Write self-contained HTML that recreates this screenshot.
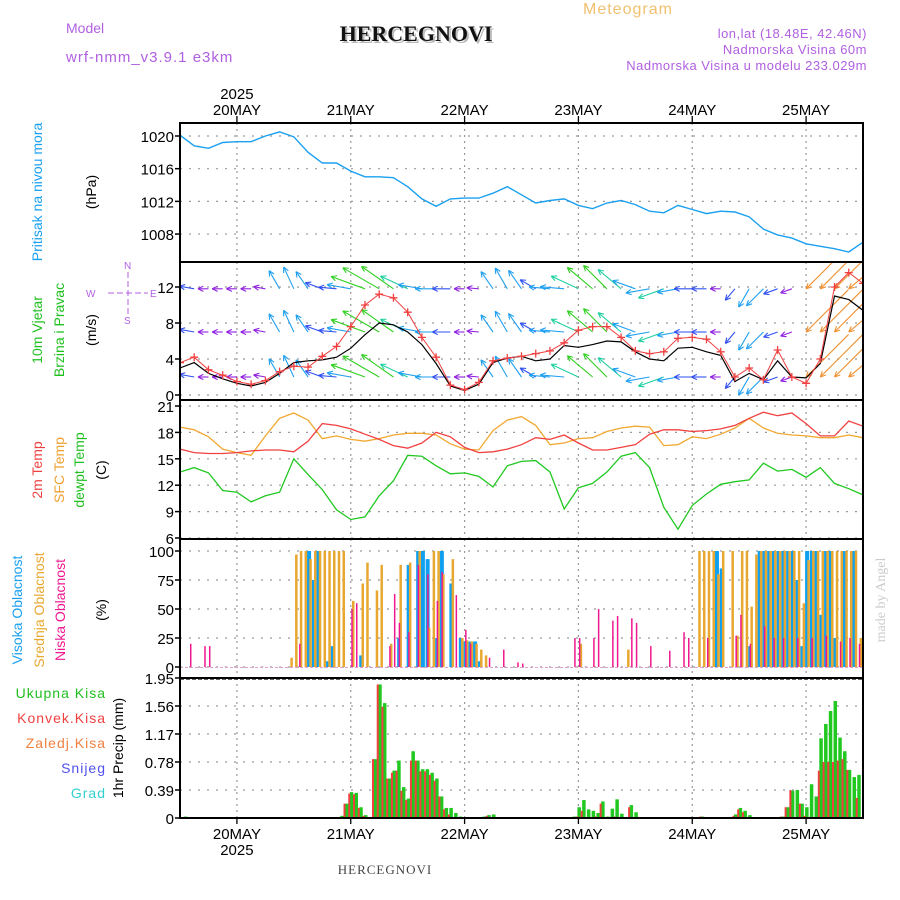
<!DOCTYPE html>
<html><head><meta charset="utf-8"><style>
html,body{margin:0;padding:0;background:#fff;}
svg{display:block;font-family:"Liberation Sans",sans-serif;}
</style></head><body>
<svg id="chart" width="900" height="900" viewBox="0 0 900 900">
<defs>
<clipPath id="cp1"><rect x="180" y="123" width="684" height="139"/></clipPath>
<clipPath id="cp2"><rect x="180" y="262" width="684" height="138"/></clipPath>
<clipPath id="cp3"><rect x="180" y="400" width="684" height="139"/></clipPath>
<clipPath id="cp4"><rect x="180" y="539" width="684" height="139"/></clipPath>
<clipPath id="cp5"><rect x="180" y="678" width="684" height="140"/></clipPath>
</defs>
<g>
<text x="583" y="14" font-size="16" fill="#f0c070" letter-spacing="1">Meteogram</text>
<text x="66" y="33" font-size="14" fill="#b060e0">Model</text>
<text x="66" y="62" font-size="15" fill="#b060e0" letter-spacing="1">wrf-nmm_v3.9.1 e3km</text>
<text x="418" y="43" font-size="22" font-weight="bold" font-family="Liberation Serif,serif" fill="#bbb" text-anchor="middle">HERCEGNOVI</text>
<text x="416" y="41" font-size="22" font-weight="bold" font-family="Liberation Serif,serif" fill="#111" text-anchor="middle">HERCEGNOVI</text>
<text x="867" y="38" font-size="13" fill="#b060e0" text-anchor="end" letter-spacing="0.5">lon,lat (18.48E, 42.46N)</text>
<text x="867" y="54" font-size="13" fill="#b060e0" text-anchor="end" letter-spacing="0.5">Nadmorska Visina 60m</text>
<text x="867" y="70" font-size="13" fill="#b060e0" text-anchor="end" letter-spacing="0.5">Nadmorska Visina u modelu 233.029m</text>
</g>
<g>
<text transform="translate(42,192) rotate(-90)" font-size="14" fill="#1aa0f0" text-anchor="middle">Pritisak na nivou mora</text>
<text transform="translate(96,192) rotate(-90)" font-size="14" fill="#000" text-anchor="middle">(hPa)</text>
<text transform="translate(42,330) rotate(-90)" font-size="14" fill="#20c020" text-anchor="middle">10m Vjetar</text>
<text transform="translate(64,330) rotate(-90)" font-size="14" fill="#20c020" text-anchor="middle">Brzina i Pravac</text>
<text transform="translate(96,330) rotate(-90)" font-size="14" fill="#000" text-anchor="middle">(m/s)</text>
<g stroke="#b060e0" fill="#b060e0" font-size="10">
<line x1="128" y1="272" x2="128" y2="314" stroke-dasharray="6,3"/>
<line x1="108" y1="293" x2="148" y2="293" stroke-dasharray="6,3"/>
<text x="124" y="269" stroke="none">N</text><text x="124" y="324" stroke="none">S</text>
<text x="86" y="297" stroke="none">W</text><text x="150" y="297" stroke="none">E</text>
</g>
<text transform="translate(42,470) rotate(-90)" font-size="14" fill="#f04040" text-anchor="middle">2m Temp</text>
<text transform="translate(64,470) rotate(-90)" font-size="14" fill="#f0a030" text-anchor="middle">SFC Temp</text>
<text transform="translate(84,470) rotate(-90)" font-size="14" fill="#20c020" text-anchor="middle">dewpt Temp</text>
<text transform="translate(106,470) rotate(-90)" font-size="14" fill="#000" text-anchor="middle">(C)</text>
<text transform="translate(22,610) rotate(-90)" font-size="14" fill="#1aa0f0" text-anchor="middle">Visoka Oblacnost</text>
<text transform="translate(44,610) rotate(-90)" font-size="14" fill="#e8a830" text-anchor="middle">Srednja Oblacnost</text>
<text transform="translate(65,610) rotate(-90)" font-size="14" fill="#f01890" text-anchor="middle">Niska Oblacnost</text>
<text transform="translate(106,610) rotate(-90)" font-size="14" fill="#000" text-anchor="middle">(%)</text>
<g font-size="14" text-anchor="end" letter-spacing="1">
<text x="106" y="698" fill="#20c020">Ukupna Kisa</text>
<text x="106" y="723" fill="#f04040">Konvek.Kisa</text>
<text x="106" y="748" fill="#f08040">Zaledj.Kisa</text>
<text x="106" y="773" fill="#5050f0">Snijeg</text>
<text x="106" y="798" fill="#30d0d0">Grad</text>
</g>
<text transform="translate(123,748) rotate(-90)" font-size="14" fill="#000" text-anchor="middle">1hr Precip (mm)</text>
<text transform="translate(885,600) rotate(-90)" font-size="14" font-family="Liberation Serif,serif" fill="#ccc" text-anchor="middle">made by Angel</text>
<text x="385" y="874" font-size="13" font-family="Liberation Serif,serif" fill="#444" text-anchor="middle" letter-spacing="1">HERCEGNOVI</text>
</g>
<g id="plots"></g>
</svg>
<script>
// ---- data (hours from 19 MAY 12Z) ----
const dayLabels = ["20MAY","21MAY","22MAY","23MAY","24MAY","25MAY"];
const dayHours = [12,36,60,84,108,132];
const pressure = [1020.1,1018.8,1018.5,1019.2,1019.3,1019.3,1020.0,1020.5,1019.9,1018.0,1016.7,1016.7,1015.7,1015.0,1015.0,1014.9,1013.8,1012.3,1011.4,1012.3,1012.4,1012.4,1013.0,1013.8,1012.8,1011.8,1012.1,1012.3,1011.5,1011.1,1011.8,1012.1,1011.6,1010.8,1010.6,1011.5,1011.0,1010.5,1010.8,1010.7,1010.1,1008.6,1007.9,1007.5,1006.8,1006.5,1006.2,1005.8,1007.0];
const pressureTicks = [1020,1016,1012,1008];
const windGust = [3.6,4.2,2.8,2.2,1.5,1.2,1.6,2.6,3.2,3.1,4.3,5.4,7.6,10.0,11.2,10.8,9.2,6.4,4.2,1.1,0.6,1.4,3.8,4.1,4.3,4.6,4.9,5.8,7.2,7.6,7.6,6.4,4.9,4.6,4.8,6.3,6.4,6.2,4.8,2.0,3.0,1.7,5.0,2.0,1.3,4.0,12.0,13.6,12.4];
const windSpeed = [3.0,3.6,2.4,1.8,1.3,1.0,1.4,2.4,3.6,3.8,3.9,4.2,5.2,6.7,8.0,7.8,7.0,5.6,3.5,1.0,0.5,1.2,3.6,4.1,4.3,3.8,4.0,5.5,5.3,5.6,6.0,5.9,4.8,4.0,3.8,5.2,5.3,4.8,4.4,1.5,2.4,1.7,3.8,2.0,1.9,3.5,11.0,10.6,9.4];
const windDir = [150,170,180,180,180,180,170,120,115,125,160,175,170,160,150,145,155,170,180,180,180,175,125,120,125,150,175,175,155,140,135,140,160,190,200,190,180,180,180,230,240,225,200,200,225,225,225,220,220];
const windLen = [14,10,7,7,7,7,8,14,16,14,12,12,16,24,28,26,20,16,14,12,7,8,14,16,15,12,14,16,20,22,22,20,16,16,18,14,12,10,7,10,14,16,10,8,40,45,45,40,40];
const windRows = [11.8,7.0,2.0];
const windTicks = [12,8,4,0];
const temp2m = [16.1,15.7,15.6,15.6,15.7,15.9,16.0,16.0,15.8,17.0,19.0,18.8,18.4,17.8,17.2,16.5,16.2,16.8,18.0,17.5,16.3,15.7,15.8,16.1,16.6,17.4,17.2,17.7,16.8,16.0,16.0,16.3,16.6,17.8,18.3,18.3,18.1,18.2,18.4,18.8,19.6,20.3,19.9,20.2,19.0,17.6,17.6,19.3,18.7];
const tempSfc = [18.6,18.3,17.5,16.1,15.7,15.4,17.6,19.6,20.2,19.4,17.3,17.6,17.2,17.0,17.3,17.7,17.9,17.9,17.7,16.7,16.1,16.0,18.2,19.4,19.8,18.8,16.6,16.8,17.3,17.4,18.1,18.5,18.7,18.6,16.5,16.6,17.5,17.3,17.8,18.5,19.6,18.5,17.9,17.7,17.6,17.4,17.4,17.7,17.4];
const tempDew = [13.5,14.0,13.4,11.4,11.2,10.1,10.8,11.2,15.0,13.2,11.5,9.2,8.1,8.4,10.8,12.5,15.4,15.3,14.2,13.3,13.4,13.0,11.8,14.2,14.7,14.8,13.5,9.3,11.7,12.2,13.5,15.3,15.7,14.0,9.5,7.0,9.7,11.0,12.1,12.4,12.6,14.5,13.6,13.8,12.9,14.0,12.2,11.6,10.9];
const tempTicks = [21,18,15,12,9,6];
const cloudHighHours = [27,28,29,31,32,38,46,48,50,51,52,54,55,57,59,60,61,62,63,113,114,120,122,123,124,125,126,127,128,129,130,131,132,133,134,135,136,137,138,140,142];
const cloudHighVals  = [100,75,100,5,18,10,25,88,100,100,93,25,100,72,25,22,22,22,5,100,85,18,100,100,100,100,100,100,100,100,75,18,100,100,100,45,100,100,25,100,100];
const cloudMidHours = [24,25,26,27,28,29,30,31,32,33,34,35,37,39,40,42,43,45,47,49,51,53,54,55,56,58,60,61,62,63,64,65,85,95,110,111,112,113,114,115,117,118,119,120,121,122,123,124,125,126,127,128,129,130,131,132,133,134,135,136,137,138,139,140,141,142,143,144];
const cloudMidVals  = [8,97,100,100,93,100,100,100,100,100,100,100,57,72,90,66,88,20,88,90,100,34,100,100,80,93,25,23,22,20,15,10,20,15,100,100,100,100,80,100,100,27,100,100,52,97,100,100,100,100,100,100,100,100,100,55,92,100,100,100,100,100,100,100,100,100,100,25];
const cloudLowHours = [2,5,6,25,36,37,44,45,46,48,50,52,54,55,58,60,61,65,68,71,72,83,84,87,88,91,92,95,96,99,103,106,107,111,117,118,120,123,125,127,130,133,136,139,141,143];
const cloudLowVals  = [20,18,18,20,50,55,18,63,38,30,88,80,57,82,62,32,20,8,15,4,3,25,25,25,50,40,44,42,38,18,14,30,25,25,27,45,20,35,25,25,25,25,27,22,25,20];
const cloudTicks = [100,75,50,25,0];
const precipHours = [1,34,35,36,37,38,39,41,42,43,44,45,46,47,48,49,50,51,52,53,54,55,56,57,58,59,64,65,66,83,84,85,86,87,88,89,90,91,92,93,95,96,110,117,118,119,120,127,128,129,130,131,132,133,134,135,136,137,138,139,140,141,142,143,144];
const precipTotal = [0.02,0.03,0.2,0.36,0.35,0.15,0.04,0.82,1.86,1.6,0.55,0.66,0.8,0.43,0.27,0.93,0.8,0.68,0.68,0.63,0.55,0.3,0.14,0.14,0.07,0.02,0.02,0.04,0.05,0.02,0.15,0.25,0.12,0.1,0.07,0.23,0.02,0.13,0.26,0.06,0.18,0.08,0.02,0.05,0.14,0.1,0.04,0.02,0.15,0.38,0.39,0.2,0.15,0.47,0.3,1.11,1.31,1.49,1.63,1.12,0.93,0.67,0.57,0.6,0.66];
const precipConv  = [0.0,0.0,0.2,0.34,0.33,0.14,0.03,0.82,1.86,1.55,0.55,0.63,0.66,0.38,0.25,0.8,0.8,0.65,0.65,0.6,0.52,0.3,0.12,0.05,0.0,0.0,0.0,0.03,0.0,0.0,0.02,0.1,0.0,0.0,0.02,0.2,0.0,0.0,0.02,0.0,0.15,0.0,0.02,0.03,0.12,0.08,0.0,0.02,0.15,0.39,0.0,0.2,0.03,0.0,0.0,0.66,0.78,0.78,0.78,0.8,0.82,0.67,0.0,0.28,0.0];
const precipTicks = ["1.95","1.56","1.17","0.78","0.39","0"];

// ---- scales ----
const X0=180, X1=863, HMAX=144;
const xS = h => X0 + h*(X1-X0)/HMAX;
const yP = p => 136 + (1020-p)*8.17;
const yW = v => 395 - v*9;
const yT = t => 406 + (21-t)*8.8;
const yC = c => 667 - c*1.16;
const yR = r => 818 - r*71.8;
const hOf = i => i*3;

const NS="http://www.w3.org/2000/svg";
const root=document.getElementById('plots');
function mk(tag, attrs, parent){
  const e=document.createElementNS(NS,tag);
  for(const k in attrs) e.setAttribute(k,attrs[k]);
  (parent||root).appendChild(e); return e;
}
const panels=[[123,262,'cp1','pressure'],[262,400,'cp2','wind'],[400,539,'cp3','temperature'],[539,678,'cp4','cloud'],[678,818,'cp5','precip']];
const groups={};
panels.forEach(p=>{
  const g=mk('g',{'clip-path':'url(#'+p[2]+')'});
  
  
  groups[p[3]]=g;
  dayHours.forEach(h=>{
    const l=mk('line',{x1:xS(h),x2:xS(h),y1:p[0],y2:p[1],stroke:'#999','stroke-dasharray':'2,4','stroke-width':1.2},g);
    
    
  });
});
function hgrid(g,y,label,name){
  const l=mk('line',{x1:X0,x2:X1,y1:y,y2:y,stroke:'#999','stroke-dasharray':'2,7','stroke-width':1.2},g);
  
  
  const t=mk('line',{x1:X0-5,x2:X0,y1:y,y2:y,stroke:'#000','stroke-width':1.5});
  
  
  const tx=mk('text',{x:X0-6,y:y+6,'font-size':15,'text-anchor':'end',fill:'#000'});
  tx.textContent=label;
  
  
}
pressureTicks.forEach(v=>hgrid(groups.pressure,yP(v),v,'pressure-tick-label'));
windTicks.forEach(v=>hgrid(groups.wind,yW(v),v,'wind-tick-label'));
tempTicks.forEach(v=>hgrid(groups.temperature,yT(v),v,'temp-tick-label'));
cloudTicks.forEach(v=>hgrid(groups.cloud,yC(v),v,'cloud-tick-label'));
precipTicks.forEach(v=>hgrid(groups.precip,yR(parseFloat(v)),v,'precip-tick-label'));

function line(g,arr,ys,color,name,w){
  const d=arr.map((v,i)=>(i?'L':'M')+xS(hOf(i)).toFixed(1)+','+ys(v).toFixed(1)).join('');
  const p=mk('path',{d:d,fill:'none',stroke:color,'stroke-width':w||1.3},g);
  
  
  return p;
}
line(groups.pressure,pressure,yP,'#1aa0f0','pressure-line',1.4);
line(groups.temperature,tempSfc,yT,'#f0a830','sfc-temp-line');
line(groups.temperature,temp2m,yT,'#f04040','temp-2m-line');
line(groups.temperature,tempDew,yT,'#20c820','dewpoint-line');

// wind arrows
function arrowColor(L){
  if(L<9) return '#9020e0';
  if(L<13) return '#3050f0';
  if(L<17) return '#20a0f0';
  if(L<21) return '#20d0a0';
  if(L<30) return '#30d020';
  return '#f09030';
}
const ASCALE=1.5;
windRows.forEach((row,ri)=>{
  windDir.forEach((dir,i)=>{
    const L=windLen[i]*ASCALE, a=dir*Math.PI/180;
    let hx=xS(hOf(i)), hy=yW(row);
    let tx, ty;
    if(windLen[i]>=30){
      // strong wind: head at anchor, tail extends opposite
      tx=hx-L*Math.cos(a); ty=hy+L*Math.sin(a);
    } else {
      tx=hx; ty=hy;
      hx=tx+L*Math.cos(a); hy=ty-L*Math.sin(a);
    }
    const c=arrowColor(windLen[i]);
    const g=mk('g',{stroke:c,'stroke-width':1.1,fill:'none'},groups.wind);
    
    
    mk('line',{x1:tx,y1:ty,x2:hx,y2:hy},g);
    for(const s of [-1,1]){
      const b=a+Math.PI+s*0.45;
      mk('line',{x1:hx,y1:hy,x2:hx+6*Math.cos(b),y2:hy-6*Math.sin(b)},g);
    }
  });
});
line(groups.wind,windSpeed,yW,'#000','wind-speed-line',1.2);
line(groups.wind,windGust,yW,'#f04040','wind-gust-line',1);
windGust.forEach((v,i)=>{
  const x=xS(hOf(i)), y=yW(v);
  const m=mk('path',{d:`M${x-4},${y}H${x+4}M${x},${y-4}V${y+4}`,stroke:'#f04040','stroke-width':1.3},groups.wind);
  
  
});

// cloud bars
const cb=mk('line',{x1:X0,x2:X1,y1:yC(0)+0.5,y2:yC(0)+0.5,stroke:'#e0a0d0','stroke-dasharray':'3,2'},groups.cloud);


cloudHighHours.forEach((h,i)=>{
  const r=mk('rect',{x:xS(h)-1,y:yC(cloudHighVals[i]),width:4,height:yC(0)-yC(cloudHighVals[i]),fill:'#10a0f0'},groups.cloud);
  
  
});
cloudMidHours.forEach((h,i)=>{
  const r=mk('rect',{x:xS(h)-3.5,y:yC(cloudMidVals[i]),width:2.5,height:yC(0)-yC(cloudMidVals[i]),fill:'#e8a830'},groups.cloud);
  
  
});
cloudLowHours.forEach((h,i)=>{
  const r=mk('rect',{x:xS(h)+0.5,y:yC(cloudLowVals[i]),width:1.5,height:yC(0)-yC(cloudLowVals[i]),fill:'#f01890'},groups.cloud);
  
  
});

// precip bars
precipHours.forEach((h,i)=>{
  const r=mk('rect',{x:xS(h)-1,y:yR(precipTotal[i]),width:3.5,height:yR(0)-yR(precipTotal[i]),fill:'#20c820'},groups.precip);
  
  
  if(precipConv[i]>0){
    const c=mk('rect',{x:xS(h)-2.5,y:yR(precipConv[i]),width:2,height:yR(0)-yR(precipConv[i]),fill:'#f04040'},groups.precip);
    
    
  }
});
const pz=mk('line',{x1:X0,x2:X1,y1:yR(0),y2:yR(0),stroke:'#000','stroke-width':2,'stroke-dasharray':'6,2'},groups.precip);


const pt=mk('line',{x1:X0,x2:X1,y1:yR(1.95)+1,y2:yR(1.95)+1,stroke:'#000','stroke-width':1.2,'stroke-dasharray':'4,2'},groups.precip);



// frames
panels.forEach(p=>{
  const f=mk('rect',{x:X0,y:p[0],width:X1-X0,height:p[1]-p[0],fill:'none',stroke:'#000','stroke-width':2});
  
  
});
dayHours.forEach((h,i)=>{
  const x=xS(h);
  const t1=mk('line',{x1:x,x2:x,y1:116,y2:123,stroke:'#000','stroke-width':1.3});
  
  
  const t2=mk('line',{x1:x,x2:x,y1:818,y2:824,stroke:'#000','stroke-width':1.3});
  
  
  const a=mk('text',{x:x,y:115,'font-size':15,'text-anchor':'middle',fill:'#000'});
  a.textContent=dayLabels[i];
  
  
  const b=mk('text',{x:x,y:839,'font-size':15,'text-anchor':'middle',fill:'#000'});
  b.textContent=dayLabels[i];
  
  
});
const y1=mk('text',{x:xS(12),y:99,'font-size':15,'text-anchor':'middle',fill:'#000'});
y1.textContent='2025';


const y2=mk('text',{x:xS(12),y:855,'font-size':15,'text-anchor':'middle',fill:'#000'});
y2.textContent='2025';


</script>
</body></html>
